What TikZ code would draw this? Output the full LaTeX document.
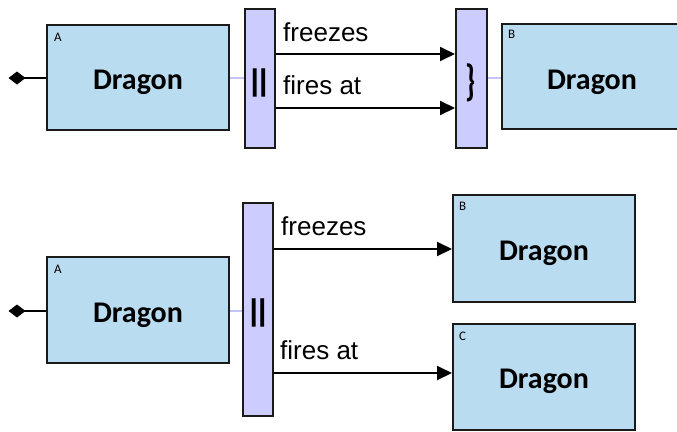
\documentclass[tikz,border=0pt]{standalone}
\usepackage{fontspec}
\setmainfont{Liberation Sans}
\newfontfamily\carl{Carlito}
\usetikzlibrary{arrows.meta}
\definecolor{boxfill}{HTML}{B9DCF0}
\definecolor{barfill}{HTML}{CCCCFF}
\definecolor{barline}{HTML}{C4C4F6}
\definecolor{edge}{HTML}{1A1A1A}
\tikzset{
  dbox/.style={draw=edge, line width=2pt, fill=boxfill, minimum width=182pt, inner sep=0pt},
  bar/.style={draw=edge, line width=2pt, fill=barfill, inner sep=0pt},
  dtext/.style={anchor=base, inner sep=0pt, font=\carl\bfseries\fontsize{30}{36}\selectfont},
  tag/.style={anchor=base west, inner sep=0pt, font=\carl\fontsize{13}{15}\selectfont},
  lbl/.style={anchor=base west, inner sep=0pt, font=\fontsize{26}{30}\selectfont},
  sym/.style={inner sep=0pt, font=\bfseries\fontsize{30}{36}\selectfont},
  brace/.style={inner sep=0pt, font=\carl\bfseries\fontsize{30}{36}\selectfont},
  arr/.style={draw=black, line width=2pt, -{Triangle[length=15pt,width=14pt]}},
  link/.style={draw=barline, line width=2pt},
  stem/.style={draw=black, line width=2pt},
  dia/.style={fill=black}
}
\begin{document}
\begin{tikzpicture}[x=1pt,y=-1pt]
\clip (0,0) rectangle (677,431);
\fill[white] (0,0) rectangle (677,431);
% ---------- top ----------
\node[dbox, minimum height=105pt] (A1) at (138,77.5) {};
\node[bar, minimum width=30pt, minimum height=139pt] (bar1) at (260,78.5) {};
\node[bar, minimum width=31pt, minimum height=139pt] (bar2) at (471.5,78.5) {};
\node[dbox, minimum height=105pt] (B1) at (593,76.5) {};
\coordinate (d1) at (17,78);
\fill[dia] (d1) ++(-8.5,0) -- ++(8.5,-6.5) -- ++(8.5,6.5) -- ++(-8.5,6.5) -- cycle;
\draw[stem] (d1) -- (A1.west |- d1);
\draw[link] (A1.east |- 0,78) -- (bar1.west |- 0,78);
\draw[link] (bar2.east |- 0,78) -- (B1.west |- 0,78);
\node[dtext] (t1) at (138,89) {Dragon};
\node[dtext] (t2) at (592,89) {Dragon};
\node[tag] (ta1) at (54,41) {A};
\node[tag] (tb1) at (508,38.5) {B};
\node[sym] (s1) at (259,82.5) {||};
\node[brace] (s2) at (471,82.5) {\scalebox{1}[1.45]{\}}};
\draw[arr] (bar1.east |- 0,54) -- (bar2.west |- 0,54);
\draw[arr] (bar1.east |- 0,108) -- (bar2.west |- 0,108);
\node[lbl] (l1) at (283,41) {freezes};
\node[lbl] (l2) at (283,94) {fires at};
% ---------- bottom ----------
\node[dbox, minimum height=106pt] (A2) at (138,310) {};
\node[bar, minimum width=30pt, minimum height=213pt] (bar3) at (258,309.5) {};
\node[dbox, minimum height=107pt] (B2) at (544,248.5) {};
\node[dbox, minimum height=106pt] (C2) at (544,377) {};
\coordinate (d2) at (17,311);
\fill[dia] (d2) ++(-8.5,0) -- ++(8.5,-6.5) -- ++(8.5,6.5) -- ++(-8.5,6.5) -- cycle;
\draw[stem] (d2) -- (A2.west |- d2);
\draw[link] (A2.east |- 0,311) -- (bar3.west |- 0,311);
\node[dtext] (t3) at (138,322.5) {Dragon};
\node[dtext] (t4) at (544,260) {Dragon};
\node[dtext] (t5) at (544,388.5) {Dragon};
\node[tag] (ta2) at (54,273) {A};
\node[tag] (tb2) at (459,210.5) {B};
\node[tag] (tc2) at (459,340.5) {C};
\node[sym] (s3) at (258,313) {||};
\draw[arr] (bar3.east |- 0,249) -- (B2.west |- 0,249);
\draw[arr] (bar3.east |- 0,373) -- (C2.west |- 0,373);
\node[lbl] (l3) at (281,235.5) {freezes};
\node[lbl] (l4) at (280,359) {fires at};
\end{tikzpicture}
\end{document}
